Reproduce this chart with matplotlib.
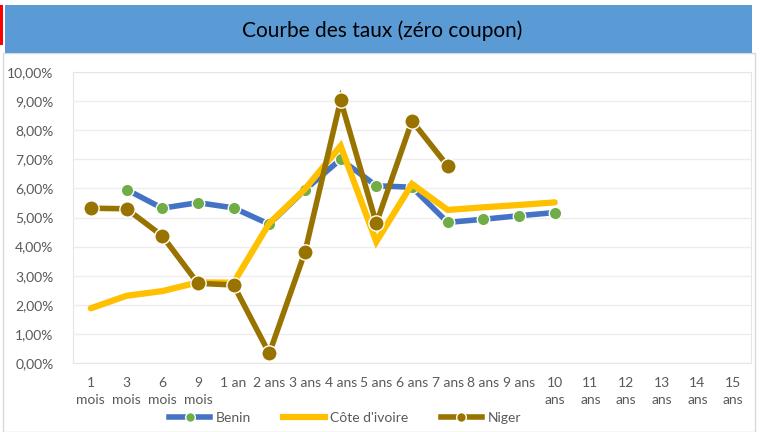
import matplotlib.pyplot as plt
import numpy as np
from matplotlib.patches import Rectangle
from matplotlib.lines import Line2D

plt.rcParams['font.family'] = ['Lato', 'DejaVu Sans']

categories = ["1\nmois", "3\nmois", "6\nmois", "9\nmois", "1 an", "2 ans", "3 ans",
              "4 ans", "5 ans", "6 ans", "7 ans", "8 ans", "9 ans", "10\nans",
              "11\nans", "12\nans", "13\nans", "14\nans", "15\nans"]

benin = [np.nan, 5.96, 5.32, 5.51, 5.33, 4.77, 5.95, 7.00, 6.09, 6.04, 4.83, 4.94, 5.06, 5.17]
cote_ivoire = [1.88, 2.31, 2.47, 2.77, 2.76, 4.80, 5.98, 7.46, 4.17, 6.15, 5.26, 5.35, 5.43, 5.52]
niger = [5.32, 5.30, 4.37, 2.74, 2.68, 0.33, 3.81, 9.03, 4.80, 8.32, 6.77]

fig = plt.figure(figsize=(7.65, 4.32), dpi=100)

# cadre du graphique
fig.patches.append(Rectangle((3 / 765, 0), 752 / 765, 379 / 432, transform=fig.transFigure,
                             facecolor='white', edgecolor='#D9D9D9', lw=1, zorder=-2))
fig.patches.append(Rectangle((5 / 765, 1 - 53 / 432), 747 / 765, 48 / 432, transform=fig.transFigure,
                             facecolor='#5B9BD5', edgecolor='none', zorder=-1))
fig.patches.append(Rectangle((0, 1 - 45 / 432), 3 / 765, 40 / 432, transform=fig.transFigure,
                             facecolor='#FF0000', edgecolor='none', zorder=-1))
fig.text(0.5, 1 - 31 / 432, "Courbe des taux (zéro coupon)", ha='center', va='center',
         fontsize=15, color='black')

ax = fig.add_axes([73 / 765, 1 - 363 / 432, 678 / 765, 291 / 432])
ax.set_zorder(2)
ax.set_facecolor('white')

x = np.arange(len(categories))

ax.plot(x[:len(benin)], benin, color='#4472C4', lw=4, marker='o', ms=9,
        markerfacecolor='#70AD47', markeredgecolor='white', markeredgewidth=1,
        solid_joinstyle='miter', zorder=3)
ax.plot(x[:len(cote_ivoire)], cote_ivoire, color='#FFC000', lw=4.5,
        solid_joinstyle='miter', solid_capstyle='round', zorder=4)
ax.plot(x[:len(niger)], niger, color='#997300', lw=4, marker='o', ms=11,
        markerfacecolor='#997300', markeredgecolor='white', markeredgewidth=1,
        solid_joinstyle='miter', zorder=5)

ax.set_xlim(-0.5, len(categories) - 0.5)
ax.set_ylim(0, 10)
ax.set_yticks(np.arange(0, 11, 1))
ax.set_yticklabels([f"{v:.2f}%".replace('.', ',') for v in range(0, 11)])
ax.set_xticks(x)
ax.set_xticklabels(categories, va='top', linespacing=1.55)
ax.tick_params(axis='both', length=0, colors='#595959', labelsize=10)
ax.tick_params(axis='x', pad=10)
ax.tick_params(axis='y', pad=14)
ax.grid(axis='y', color='#EDEDED', lw=1)
ax.set_axisbelow(True)
for s in ax.spines.values():
    s.set_color('#E6E6E6')

handles = [
    Line2D([], [], color='#4472C4', lw=4, marker='o', ms=7,
           markerfacecolor='#70AD47', markeredgecolor='white'),
    Line2D([], [], color='#FFC000', lw=4.5),
    Line2D([], [], color='#997300', lw=4, marker='o', ms=7,
           markerfacecolor='#997300', markeredgecolor='white'),
]
fig.legend(handles, ["Benin", "Côte d'ivoire", "Niger"], loc='center',
           bbox_to_anchor=(345 / 765, 1 - 418 / 432), ncol=3, frameon=False,
           fontsize=10, labelcolor='#595959', handlelength=3.0, columnspacing=2.3,
           handletextpad=0.4)

fig.savefig('out.png', dpi=100)
